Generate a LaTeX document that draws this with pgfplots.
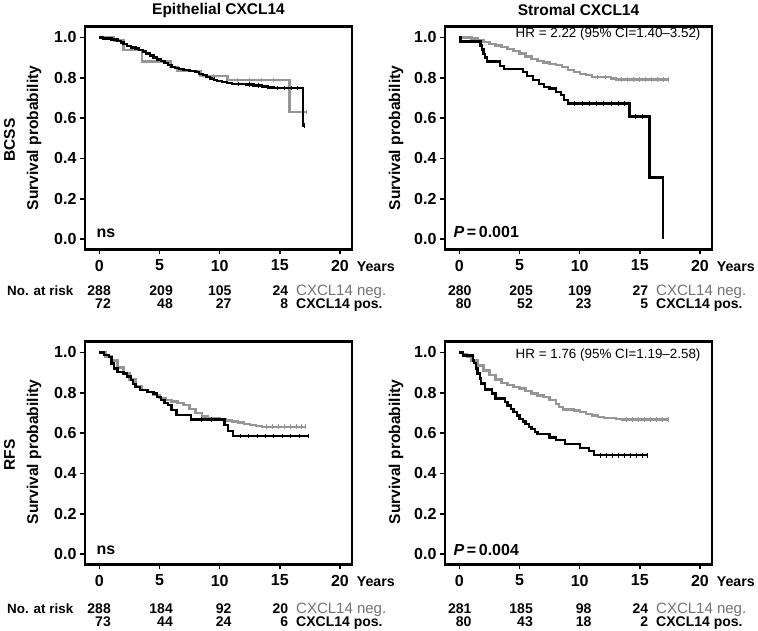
\documentclass[border=0pt]{standalone}
\usepackage{pgfplots}
\pgfplotsset{compat=1.18}
\usepackage{fontspec}
\setmainfont{Liberation Sans}
\definecolor{kmgray}{RGB}{150,150,150}
\definecolor{txtgray}{RGB}{115,115,115}
\newcommand{\fs}[1]{\fontsize{#1}{#1}\selectfont}
\pgfplotsset{km/.style={
  scale only axis, width=267pt, height=223pt,
  xmin=-1.2, xmax=21.0, ymin=-0.05, ymax=1.055,
  xtick={0,5,10,15,20},
  xticklabels={0,5,10,15,{20\rlap{\hspace{8pt}\fs{14.2}Years}}},
  ytick={0,0.2,0.4,0.6,0.8,1.0},
  yticklabels={0.0,0.2,0.4,0.6,0.8,1.0},
  xtick pos=bottom, ytick pos=left,
  tick align=outside, major tick length=5pt,
  tick style={black, line width=1.5pt},
  axis line style={line width=2.5pt},
  ticklabel style={font=\fs{16}\bfseries},
  xticklabel style={yshift=-2pt},
  clip=false,
  anchor=south west,
},
neg/.style={const plot, kmgray, line width=2.3pt},
pos/.style={const plot, black, line width=2.3pt},
cneg/.style={only marks, mark=|, mark size=2.2pt, kmgray, mark options={line width=0.9pt}},
cpos/.style={only marks, mark=|, mark size=2.2pt, black, mark options={line width=0.9pt}}}
\begin{document}
\begin{tikzpicture}
\useasboundingbox (0pt,0pt) rectangle (758pt,630pt);
% ---------- Panel 1: Epithelial BCSS
\begin{axis}[km, at={(85pt,380.7pt)}]
\addplot[neg] coordinates {(0,1) (1.2,0.985) (2.0,0.937) (3.55,0.88) (5.9,0.855) (6.5,0.835) (8.4,0.808) (10.65,0.79) (15.8,0.63) (17.2,0.63)};
\addplot[cneg] coordinates {(9.5,0.808) (11.5,0.79) (12.5,0.79) (13.5,0.79) (14.5,0.79) (17.2,0.63)};
\addplot[pos] coordinates {(0,1) (0.3,0.995) (1.0,0.99) (1.5,0.983) (1.8,0.975) (2.0,0.967) (2.3,0.958) (2.6,0.95) (3.0,0.945) (3.3,0.938) (3.6,0.93) (3.9,0.92) (4.2,0.91) (4.5,0.90) (4.8,0.89) (5.1,0.882) (5.4,0.872) (5.7,0.864) (6.0,0.855) (6.3,0.848) (6.6,0.842) (7.0,0.838) (7.5,0.834) (8.0,0.827) (8.3,0.82) (8.6,0.812) (8.9,0.803) (9.2,0.796) (9.5,0.79) (9.8,0.784) (10.2,0.779) (10.6,0.775) (11.0,0.77) (12.2,0.767) (12.8,0.762) (13.5,0.757) (14.0,0.752) (14.5,0.75) (16.9,0.564) (17.05,0.564)};
\addplot[cpos] coordinates {(11.6,0.77) (12.5,0.767) (13.2,0.762) (14.8,0.75) (15.4,0.75) (16.0,0.75) (16.5,0.75) (17.05,0.564)};
\end{axis}
% ---------- Panel 2: Stromal BCSS
\begin{axis}[km, at={(445pt,380.7pt)}]
\addplot[neg] coordinates {(0,1) (1.0,0.995) (1.5,0.985) (2.0,0.977) (2.5,0.968) (3.0,0.96) (3.5,0.952) (4.0,0.944) (4.5,0.932) (5.0,0.92) (5.5,0.906) (6.0,0.894) (6.5,0.884) (7.0,0.875) (7.5,0.868) (8.0,0.862) (8.5,0.852) (9.0,0.84) (9.5,0.83) (10.0,0.82) (10.5,0.812) (11.0,0.803) (12.6,0.797) (13.0,0.792) (17.35,0.792)};
\addplot[cneg] coordinates {(11.5,0.803) (12.1,0.803) (13.5,0.792) (14.0,0.792) (14.5,0.792) (15.0,0.792) (15.5,0.792) (16.0,0.792) (16.5,0.792) (17.0,0.792) (17.35,0.792)};
\addplot[pos] coordinates {(0,1) (0.1,0.98) (1.75,0.96) (1.9,0.94) (2.0,0.918) (2.15,0.90) (2.3,0.88) (3.4,0.86) (3.7,0.845) (5.3,0.83) (5.6,0.81) (6.1,0.79) (6.6,0.77) (7.05,0.755) (7.5,0.747) (8.0,0.73) (8.45,0.714) (8.7,0.69) (9.0,0.673) (14.15,0.608) (15.8,0.306) (16.95,0.0)};
\addplot[cpos] coordinates {(9.6,0.673) (10.2,0.673) (10.8,0.673) (11.4,0.673) (12.0,0.673) (12.6,0.673) (13.2,0.673) (13.7,0.673) (14.6,0.608) (15.2,0.608)};
\end{axis}
% ---------- Panel 3: Epithelial RFS
\begin{axis}[km, at={(85pt,65.7pt)}]
\addplot[neg] coordinates {(0,1) (0.5,0.98) (1.0,0.96) (1.5,0.925) (2.0,0.895) (2.5,0.865) (3.0,0.835) (3.5,0.815) (4.0,0.805) (4.5,0.79) (5.0,0.775) (5.5,0.765) (6.0,0.757) (6.5,0.75) (7.0,0.74) (7.5,0.72) (8.0,0.70) (8.5,0.683) (9.0,0.673) (10.0,0.668) (10.5,0.663) (11.0,0.658) (11.5,0.652) (12.0,0.645) (12.5,0.64) (13.0,0.635) (13.5,0.632) (17.15,0.632)};
\addplot[cneg] coordinates {(13.9,0.632) (14.4,0.632) (14.9,0.632) (15.4,0.632) (15.9,0.632) (16.4,0.632) (16.8,0.632) (17.15,0.632)};
\addplot[pos] coordinates {(0,1) (0.4,0.987) (0.8,0.978) (1.0,0.945) (1.2,0.92) (1.5,0.904) (2.0,0.896) (2.3,0.88) (2.6,0.862) (2.8,0.845) (3.0,0.83) (3.4,0.813) (4.0,0.805) (4.5,0.797) (4.8,0.78) (5.1,0.764) (5.4,0.75) (5.7,0.739) (6.0,0.714) (6.4,0.69) (7.6,0.668) (10.4,0.64) (10.7,0.61) (11.1,0.587) (17.35,0.587)};
\addplot[cpos] coordinates {(8.5,0.668) (9.3,0.668) (11.7,0.587) (12.4,0.587) (13.1,0.587) (13.8,0.587) (14.5,0.587) (15.2,0.587) (15.9,0.587) (16.6,0.587) (17.35,0.587)};
\end{axis}
% ---------- Panel 4: Stromal RFS
\begin{axis}[km, at={(445pt,65.7pt)}]
\addplot[neg] coordinates {(0,1) (0.3,0.99) (0.6,0.98) (1.0,0.96) (1.5,0.935) (2.0,0.91) (2.5,0.888) (3.0,0.866) (3.5,0.85) (4.0,0.838) (4.5,0.83) (5.0,0.821) (5.5,0.808) (6.0,0.796) (6.5,0.787) (7.0,0.779) (7.5,0.765) (8.0,0.746) (8.3,0.73) (8.6,0.717) (9.5,0.712) (10.0,0.704) (10.5,0.695) (11.0,0.687) (11.5,0.681) (12.0,0.676) (13.0,0.671) (13.5,0.668) (17.35,0.668)};
\addplot[cneg] coordinates {(13.9,0.668) (14.4,0.668) (14.9,0.668) (15.4,0.668) (15.9,0.668) (16.4,0.668) (16.9,0.668) (17.35,0.668)};
\addplot[pos] coordinates {(0,1) (0.3,0.985) (1.1,0.96) (1.2,0.946) (1.4,0.92) (1.5,0.896) (1.7,0.87) (1.8,0.846) (2.1,0.816) (2.7,0.796) (3.0,0.771) (3.8,0.754) (4.0,0.737) (4.3,0.72) (4.5,0.704) (4.8,0.688) (5.0,0.671) (5.3,0.658) (5.5,0.645) (5.8,0.632) (6.0,0.62) (6.3,0.607) (6.5,0.595) (7.5,0.579) (8.0,0.565) (8.8,0.545) (10.0,0.528) (10.8,0.512) (11.2,0.49) (15.65,0.49)};
\addplot[cpos] coordinates {(11.7,0.49) (12.2,0.49) (12.7,0.49) (13.2,0.49) (13.7,0.49) (14.2,0.49) (14.7,0.49) (15.2,0.49) (15.65,0.49)};
\end{axis}
% ---------- Text
\node[font=\fs{15.5}\bfseries] at (218.5pt,620pt) {Epithelial CXCL14};
\node[font=\fs{15.5}\bfseries] at (578.5pt,620pt) {Stromal CXCL14};
\node[font=\fs{15.5}\bfseries,rotate=90] at (9.5pt,490pt) {BCSS};
\node[font=\fs{15.5}\bfseries,rotate=90] at (9.5pt,175pt) {RFS};
\foreach \px/\py in {34/492,396/492,34/178,396/178}
  \node[font=\fs{15.6}\bfseries,rotate=90] at (\px pt,\py pt) {Survival probability};
\node[font=\fs{16}\bfseries,anchor=west] at (93pt,397pt) {ns};
\node[font=\fs{16}\bfseries,anchor=west] at (93pt,80pt) {ns};
\node[font=\fs{16}\bfseries,anchor=west] at (450pt,398pt) {\textit{P}\,=\,0.001};
\node[font=\fs{16}\bfseries,anchor=west] at (450pt,80pt) {\textit{P}\,=\,0.004};
\node[font=\fs{13.4},anchor=east] at (704pt,596pt) {HR = 2.22 (95\% CI=1.40--3.52)};
\node[font=\fs{13.4},anchor=east] at (704pt,275pt) {HR = 1.76 (95\% CI=1.19--2.58)};
% at-risk tables
\begin{scope}[every node/.style={font=\fs{14}\bfseries,anchor=base east,inner sep=0pt}]
% top left
\node[anchor=base west,font=\fs{13.4}\bfseries] at (7pt,334pt) {No. at risk};
\foreach \x/\n in {111/288,173/209,231.7/105,288.3/24} \node at (\x pt,334pt) {\n};
\foreach \x/\n in {111/72,173/48,231.7/27,288.3/8} \node at (\x pt,321pt) {\n};
\node[anchor=base west,text=txtgray,font=\fs{15}] at (296pt,334pt) {CXCL14 neg.};
\node[anchor=base west] at (296pt,321pt) {CXCL14 pos.};
% top right
\foreach \x/\n in {471.7/280,533/205,591.7/109,648.3/27} \node at (\x pt,334pt) {\n};
\foreach \x/\n in {471.7/80,533/52,591.7/23,648.3/5} \node at (\x pt,321pt) {\n};
\node[anchor=base west,text=txtgray,font=\fs{15}] at (656pt,334pt) {CXCL14 neg.};
\node[anchor=base west] at (656pt,321pt) {CXCL14 pos.};
% bottom left
\node[anchor=base west,font=\fs{13.4}\bfseries] at (7pt,17pt) {No. at risk};
\foreach \x/\n in {111/288,173/184,231.7/92,288.3/20} \node at (\x pt,17pt) {\n};
\foreach \x/\n in {111/73,173/44,231.7/24,288.3/6} \node at (\x pt,4pt) {\n};
\node[anchor=base west,text=txtgray,font=\fs{15}] at (296pt,17pt) {CXCL14 neg.};
\node[anchor=base west] at (296pt,4pt) {CXCL14 pos.};
% bottom right
\foreach \x/\n in {471.7/281,533/185,591.7/98,648.3/24} \node at (\x pt,17pt) {\n};
\foreach \x/\n in {471.7/80,533/43,591.7/18,648.3/2} \node at (\x pt,4pt) {\n};
\node[anchor=base west,text=txtgray,font=\fs{15}] at (656pt,17pt) {CXCL14 neg.};
\node[anchor=base west] at (656pt,4pt) {CXCL14 pos.};
\end{scope}
\end{tikzpicture}
\end{document}
